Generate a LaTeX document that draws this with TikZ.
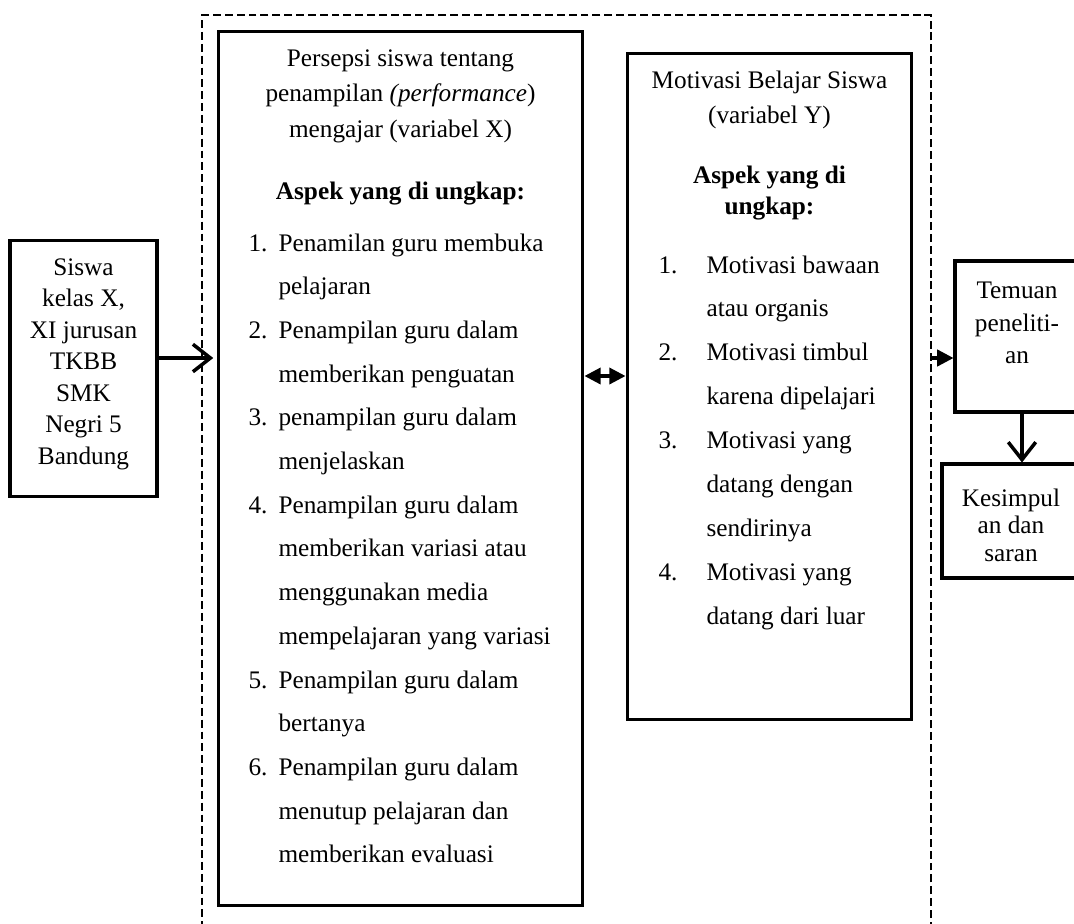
\documentclass[tikz,border=0pt]{standalone}
\usepackage{fontspec}
\setmainfont{Liberation Serif}
\usetikzlibrary{arrows.meta, positioning}
\tikzset{
  every picture/.style={line width=1.4pt},
  box/.style={draw, rectangle, inner sep=0pt},
  frame/.style={draw, dash pattern=on 3.6pt off 1.8pt, line width=1.1pt, inner sep=0pt},
  txt/.style={font=\fontsize{11.5}{14}\selectfont, inner sep=0pt, anchor=mid},
  head/.style={txt, font=\fontsize{11.5}{14}\selectfont\bfseries},
  barb/.style={-{Straight Barb[length=2.8mm, width=4.4mm]}, line width=1.6pt},
  tri/.style={-{Triangle[length=2.6mm, width=2.6mm]}, line width=1.5pt},
}
\begin{document}
\begin{tikzpicture}[x=0.016cm, y=-0.016cm]
  \useasboundingbox (0,0) rectangle (1074,923);
  % the boxes (the dashed frame and the two right boxes run off the page)
  \node[frame, minimum width=11.664cm, minimum height=15.12cm] (frame) at (566.5,487.5) {};
  \node[box, minimum width=2.352cm, minimum height=4.112cm] (sis) at (83.5,368.5) {};
  \node[box, minimum width=5.84cm, minimum height=14cm] (per) at (400.5,468.5) {};
  \node[box, minimum width=4.56cm, minimum height=10.672cm] (mot) at (769.5,386.5) {};
  \node[box, minimum width=2cm, minimum height=2.416cm] (tem) at (1017.5,336.5) {};
  \node[box, minimum width=2.208cm, minimum height=1.824cm] (kes) at (1011,521) {};
  % siswa
  \foreach \t [count=\k from 0] in {Siswa, {kelas X,}, XI jurusan, TKBB, SMK, Negri 5, Bandung}
    \node[txt] (sl\k) at (83.5, 270+31.5*\k) {\t};
  % variabel X
  \foreach \t [count=\k from 0] in {Persepsi siswa tentang, penampilan \textit{(performance}), mengajar (variabel X)}
    \node[txt] (pt\k) at (400.5, 61+35.5*\k) {\t};
  \node[head] (pa) at (400.5,194) {Aspek yang di ungkap:};
  \foreach \t [count=\k from 0] in {Penamilan guru membuka, pelajaran, Penampilan guru dalam,
      memberikan penguatan, penampilan guru dalam, menjelaskan, Penampilan guru dalam,
      memberikan variasi atau, menggunakan media, mempelajaran yang variasi,
      Penampilan guru dalam, bertanya, Penampilan guru dalam, menutup pelajaran dan,
      memberikan evaluasi}
    \node[txt, anchor=mid west] (pl\k) at (277, 246+43.7*\k) {\t};
  \foreach \n/\k in {1/0, 2/2, 3/4, 4/6, 5/10, 6/12}
    \node[txt, anchor=mid west] (pn\n) at (247, 246+43.7*\k) {\n.};
  % variabel Y
  \node[txt] (mt0) at (769.5,83) {Motivasi Belajar Siswa};
  \node[txt] (mt1) at (769.5,118) {(variabel Y)};
  \node[head] (ma0) at (769.5,178) {Aspek yang di};
  \node[head] (ma1) at (769.5,209) {ungkap:};
  \foreach \t [count=\k from 0] in {Motivasi bawaan, atau organis, Motivasi timbul,
      karena dipelajari, Motivasi yang, datang dengan, sendirinya, Motivasi yang,
      datang dari luar}
    \node[txt, anchor=mid west] (ml\k) at (705, 268+43.9*\k) {\t};
  \foreach \n/\k in {1/0, 2/2, 3/4, 4/7}
    \node[txt, anchor=mid west] (mn\n) at (657, 268+43.9*\k) {\n.};
  % hasil
  \foreach \t/\y [count=\k from 0] in {Temuan/293, peneliti-/326, an/358}
    \node[txt] (tl\k) at (1017, \y) {\t};
  \foreach \t/\y [count=\k from 0] in {Kesimpul/501, an dan/528.5, saran/556}
    \node[txt] (kl\k) at (1011, \y) {\t};
  % connectors
  \coordinate (ya) at (0,358);
  \coordinate (yb) at (0,376);
  \coordinate (xa) at (1022,0);
  \draw[barb, shorten >=1.5pt] (sis.east |- ya) -- (per.west |- ya);
  \draw[{Triangle[length=2.6mm, width=2.6mm]}-{Triangle[length=2.6mm, width=2.6mm]}] (per.east |- yb) -- (mot.west |- yb);
  \draw[tri] (frame.east |- ya) -- (tem.west |- ya);
  \draw[barb] (tem.south -| xa) -- (kes.north -| xa);
\end{tikzpicture}
\end{document}
